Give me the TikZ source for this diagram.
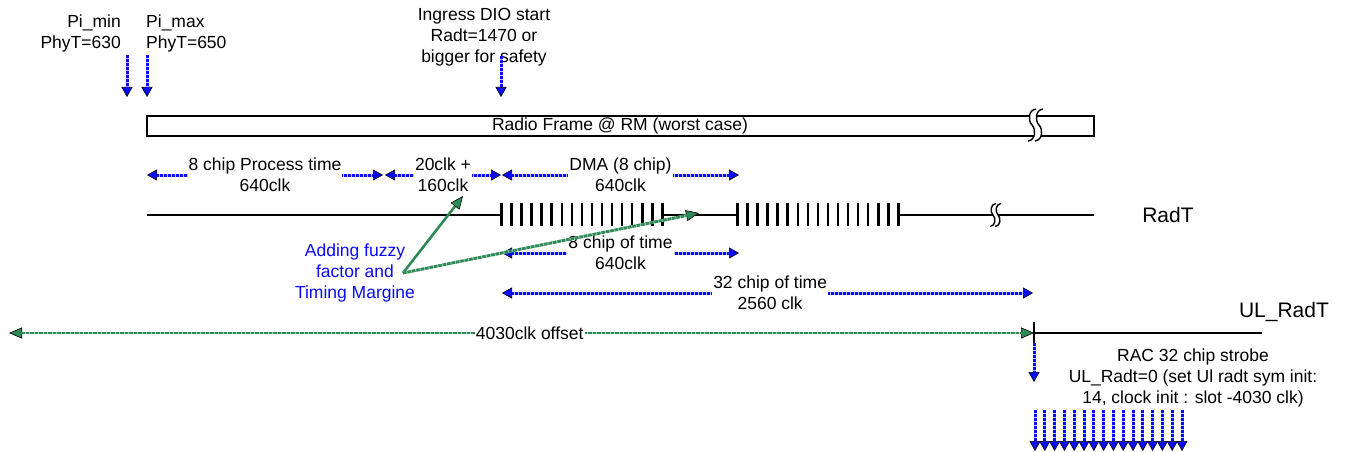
\documentclass[tikz,border=0pt]{standalone}
\usepackage{fontspec}
\setmainfont{Liberation Sans}
\usetikzlibrary{arrows.meta}
\definecolor{fzblue}{RGB}{10,10,255}
\definecolor{fzgreen}{RGB}{46,139,87}
\tikzset{
  txt/.style={font=\fontsize{17.5}{21}\selectfont, align=center, inner sep=0pt},
  big/.style={font=\fontsize{21}{24}\selectfont, inner sep=0pt},
  lbl/.style={txt, fill=white, inner sep=1pt},
  btip/.tip={Triangle[length=10pt,width=11pt,color=black,fill=fzblue,line width=0.6pt]},
  gtip/.tip={Triangle[length=13pt,width=11pt,color=black,fill=fzgreen,line width=0.6pt]},
  bdown/.style={draw=fzblue!25!white, line width=3pt, -btip,
     postaction={draw=fzblue, line width=3pt, dash pattern=on 3pt off 1pt, -, shorten >=9pt}},
  bdbl/.style={draw=fzblue!25!white, line width=3pt, btip-btip,
     postaction={draw=fzblue, line width=3pt, dash pattern=on 3pt off 1pt, -, shorten >=9pt, shorten <=9pt}},
  gsolid/.style={draw=fzgreen, line width=2.6pt, -gtip},
  gdot/.style={draw=fzgreen!45!white, line width=2.8pt, -gtip,
     postaction={draw=fzgreen, line width=2.8pt, dash pattern=on 3.5pt off 1pt, -, shorten >=12pt}},
  gdbl/.style={draw=fzgreen!45!white, line width=2.8pt, gtip-gtip,
     postaction={draw=fzgreen, line width=2.8pt, dash pattern=on 3.5pt off 1pt, -, shorten >=12pt, shorten <=12pt}},
  tline/.style={line width=1.4pt},
  tick/.style={line width=2.6pt},
  brk/.pic={
    \fill[white] (4,-16) .. controls (-4,-15) and (-4,-4) .. (0,0)
       .. controls (4,4) and (4,15) .. (-4,16) -- (3,16)
       .. controls (11,15) and (11,4) .. (7,0)
       .. controls (3,-4) and (3,-15) .. (11,-16) -- cycle;
    \draw[line width=1.4pt] (4,-16) .. controls (-4,-15) and (-4,-4) .. (0,0)
       .. controls (4,4) and (4,15) .. (-4,16);
    \draw[line width=1.4pt] (11,-16) .. controls (3,-15) and (3,-4) .. (7,0)
       .. controls (11,4) and (11,15) .. (3,16);
  }
}
\begin{document}
\begin{tikzpicture}[x=1pt,y=-1pt]
\useasboundingbox (0,0) rectangle (1345,452);

% top labels and arrows
\node[txt, align=right, anchor=east] (pimin) at (121,33) {Pi\_min\\PhyT=630};
\node[txt, align=left, anchor=west] (pimax) at (146,33) {Pi\_max\\PhyT=650};
\node[txt] (ingress) at (484,37) {Ingress DIO start\\Radt=1470 or\\bigger for safety};
\coordinate (a1s) at (127,55); \coordinate (a1e) at (127,97);
\coordinate (a2s) at (147,55); \coordinate (a2e) at (147,97);
\coordinate (a3s) at (501,56); \coordinate (a3e) at (501,97);
\draw[bdown] (a1s) -- (a1e);
\draw[bdown] (a2s) -- (a2e);
\draw[bdown] (a3s) -- (a3e);

% radio frame
\draw[line width=1.5pt] (147,116) rectangle (1094,136);
\node[txt] (rf) at (620,126) {Radio Frame @ RM (worst case)};
\pic at (1032,125) {brk};

% row 1
\coordinate (r1a) at (147,175); \coordinate (r1b) at (383,175);
\coordinate (r1c) at (385,175); \coordinate (r1d) at (501,175);
\coordinate (r1e) at (502,175); \coordinate (r1f) at (739,175);
\draw[bdbl] (r1a) -- (r1b) node[lbl, midway] (pt) {8 chip Process time\\640clk};
\draw[bdbl] (r1c) -- (r1d) node[lbl, midway] (clk) {20clk +\\160clk};
\draw[bdbl] (r1e) -- (r1f) node[lbl, midway] (dma) {DMA (8 chip)\\640clk};

% RadT line
\draw[tline] (147,215) -- (501,215);
\draw[tline] (662,215) -- (737,215);
\foreach \i in {0,...,16} {\draw[tick] ({501.5+\i*10.05},203) -- ({501.5+\i*10.05},226);}
\foreach \i in {0,...,16} {\draw[tick] ({737.5+\i*10.05},203) -- ({737.5+\i*10.05},226);}
\draw[tline] (898,215) -- (1094,215);
\pic[scale=0.72] at (993,215) {brk};
\node[big] (radt) at (1168,215) {RadT};

% row 2
\coordinate (r2a) at (502,253); \coordinate (r2b) at (739,253);
\draw[bdbl] (r2a) -- (r2b) node[lbl, midway] (c8) {8 chip of time\\640clk};

% row 3
\coordinate (r3a) at (502,293); \coordinate (r3b) at (1033,293);
\draw[bdbl] (r3a) -- (r3b) node[lbl, pos=0.505] (c32) {32 chip of time\\2560 clk};

% fuzzy factor
\node[txt, text=fzblue] (fz) at (355,273) {Adding fuzzy\\factor and\\Timing Margine};
\coordinate (fzs) at (403,273);
\coordinate (fzt1) at (463,196);
\coordinate (fzt2) at (699,213);
\draw[gsolid] (fzs) -- (fzt1);
\draw[gdot] (fzs) -- (fzt2);

% UL_RadT
\coordinate (ul0) at (1034,333);
\draw[tline] (ul0) -- (1262,333);
\draw[tline] (1034,322) -- (1034,343);
\node[big] (ulradt) at (1284,312) {UL\_RadT};

% offset
\coordinate (off0) at (9,333);
\draw[gdbl] (off0) -- (ul0) node[lbl, pos=0.508] (offl) {4030clk offset};

% strobe
\coordinate (sd0) at (1034,343); \coordinate (sd1) at (1034,382);
\draw[bdown] (sd0) -- (sd1);
\node[txt] (rac) at (1193,378) {RAC 32 chip strobe\\UL\_Radt=0 (set Ul radt sym init:\\14, clock init : slot -4030 clk)};
\foreach \i in {0,...,15} {\draw[bdown] ({1035+\i*9.8},410) -- ({1035+\i*9.8},451);}
\end{tikzpicture}
\end{document}
